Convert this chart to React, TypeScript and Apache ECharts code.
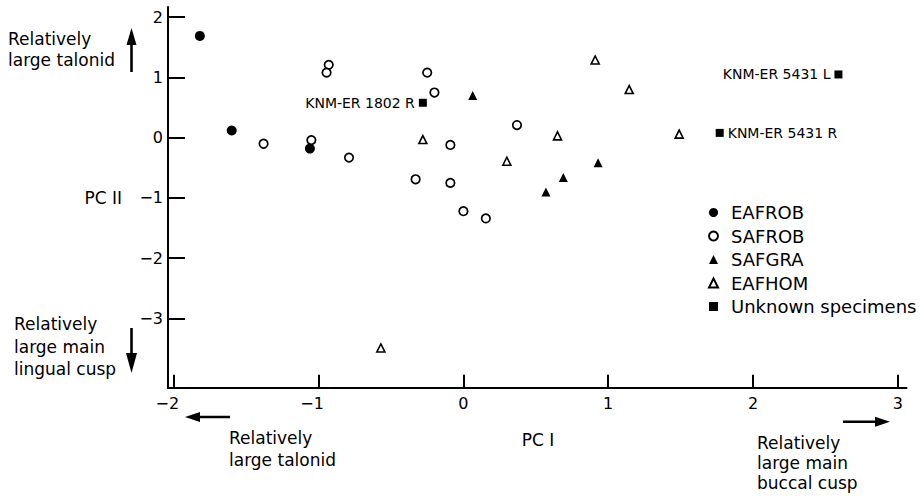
import React, { useEffect, useRef } from "react";
import * as echarts from "echarts";

// ---- data ----
const xTicks = [-2, -1, 0, 1, 2, 3];
const yTicks = [-3, -2, -1, 0, 1, 2];

const eafrobX = [-1.82, -1.6, -1.06];
const eafrobY = [1.69, 0.12, -0.18];

const safrobX = [-1.38, -1.05, -0.93, -0.945, -0.25, -0.2, -0.79, -0.09, -0.33, -0.09, 0.0, 0.155, 0.37];
const safrobY = [-0.1, -0.04, 1.21, 1.08, 1.08, 0.75, -0.33, -0.12, -0.69, -0.75, -1.22, -1.34, 0.21];

const safgraX = [0.064, 0.93, 0.69, 0.57];
const safgraY = [0.7, -0.415, -0.66, -0.9];

const eafhomX = [-0.28, 0.3, 0.65, 0.91, 1.145, 1.49, -0.57];
const eafhomY = [-0.03, -0.39, 0.03, 1.29, 0.8, 0.06, -3.49];

const unknownX = [-0.28, 2.59, 1.77];
const unknownY = [0.58, 1.05, 0.08];
const unknownNames = ["KNM-ER 1802 R", "KNM-ER 5431 L", "KNM-ER 5431 R"];
const unknownLabelSide = ["left", "left", "right"];

const legendNames = ["EAFROB", "SAFROB", "SAFGRA", "EAFHOM", "Unknown specimens"];

const FONT = "DejaVu Sans";

const zip = (xs: number[], ys: number[]) => xs.map((x, i) => [x, ys[i]]);

export default function App() {
  const ref = useRef<HTMLDivElement>(null);

  useEffect(() => {
    if (!ref.current) return;
    const chart = echarts.init(ref.current, undefined, { renderer: "svg" });

    const textStyle = (extra: any) => ({
      fontFamily: FONT,
      fontSize: 17,
      fill: "#000",
      ...extra,
    });

    const option: any = {
      animation: false,
      backgroundColor: "#fff",
      textStyle: { fontFamily: FONT, color: "#000" },
      grid: { left: 168, top: 7, width: 738.5, height: 380.7, containLabel: false },
      xAxis: {
        type: "value",
        min: -2.04,
        max: 3.06,
        splitLine: { show: false },
        axisLine: { onZero: false, lineStyle: { color: "#000", width: 2 } },
        axisTick: {
          inside: true,
          length: 13,
          customValues: xTicks,
          lineStyle: { color: "#000", width: 2 },
        },
        axisLabel: {
          customValues: xTicks,
          margin: 8,
          fontFamily: FONT,
          fontSize: 16,
          color: "#000",
          formatter: (v: number) => (v < 0 ? `{n|\u2212${-v}}` : `${v}`),
          rich: { n: { fontFamily: FONT, fontSize: 16, color: "#000", padding: [0, 13, 0, 0] } },
        },
      },
      yAxis: {
        type: "value",
        min: -4.15,
        max: 2.17,
        splitLine: { show: false },
        axisLine: { onZero: false, lineStyle: { color: "#000", width: 2 } },
        axisTick: {
          inside: true,
          length: 17,
          customValues: yTicks,
          lineStyle: { color: "#000", width: 2 },
        },
        axisLabel: {
          customValues: yTicks,
          margin: 5,
          fontFamily: FONT,
          fontSize: 16,
          color: "#000",
          formatter: (v: number) => (v < 0 ? `\u2212${-v}` : `${v}`),
        },
      },
      legend: {
        orient: "vertical",
        left: 708,
        top: 201,
        padding: 0,
        itemWidth: 9,
        itemHeight: 9,
        itemGap: 0.5,
        selectedMode: false,
        symbolKeepAspect: true,
        textStyle: { fontFamily: FONT, fontSize: 18, color: "#000", lineHeight: 23, padding: [0, 0, 0, 8] },
        data: legendNames,
      },
      series: [
        {
          type: "scatter",
          name: legendNames[0],
          symbol: "circle",
          symbolSize: 10,
          itemStyle: { color: "#000", opacity: 1 },
          data: zip(eafrobX, eafrobY),
          silent: true,
        },
        {
          type: "scatter",
          name: legendNames[1],
          symbol: "circle",
          symbolSize: 8.5,
          itemStyle: { color: "#fff", borderColor: "#000", borderWidth: 1.7, opacity: 1 },
          data: zip(safrobX, safrobY),
          silent: true,
        },
        {
          type: "scatter",
          name: legendNames[2],
          symbol: "triangle",
          symbolSize: 9,
          symbolKeepAspect: true,
          itemStyle: { color: "#000", opacity: 1 },
          data: zip(safgraX, safgraY),
          silent: true,
        },
        {
          type: "scatter",
          name: legendNames[3],
          symbol: "triangle",
          symbolSize: 8,
          symbolKeepAspect: true,
          itemStyle: { color: "#fff", borderColor: "#000", borderWidth: 1.6, opacity: 1 },
          data: zip(eafhomX, eafhomY),
          silent: true,
        },
        {
          type: "scatter",
          name: legendNames[4],
          symbol: "rect",
          symbolSize: 8,
          symbolKeepAspect: true,
          itemStyle: { color: "#000", opacity: 1 },
          silent: true,
          label: {
            show: true,
            fontFamily: FONT,
            fontSize: 14,
            color: "#000",
            distance: 4,
            formatter: (p: any) => p.name,
          },
          data: unknownX.map((x, i) => ({
            value: [x, unknownY[i]],
            name: unknownNames[i],
            label: { position: unknownLabelSide[i] },
          })),
        },
      ],
      graphic: [
        // y-axis name and direction notes
        { type: "text", left: 8, top: 28.5, style: textStyle({ text: "Relatively\nlarge talonid", lineHeight: 21 }) },
        { type: "text", left: 14, top: 313, style: textStyle({ text: "Relatively\nlarge main\nlingual cusp", lineHeight: 22.5 }) },
        { type: "text", x: 122, y: 198, style: textStyle({ text: "PC II", align: "right", verticalAlign: "middle" }) },
        // x-axis name and direction notes
        { type: "text", x: 538, y: 440, style: textStyle({ text: "PC I", align: "center", verticalAlign: "middle" }) },
        { type: "text", left: 229, top: 427, style: textStyle({ text: "Relatively\nlarge talonid", lineHeight: 22 }) },
        { type: "text", left: 757, top: 433, style: textStyle({ text: "Relatively\nlarge main\nbuccal cusp", lineHeight: 20 }) },
        // arrows
        { type: "line", shape: { x1: 131.5, y1: 72, x2: 131.5, y2: 42 }, style: { stroke: "#000", lineWidth: 2.6 } },
        { type: "polygon", shape: { points: [[131.5, 28], [126.5, 45], [136.5, 45]] }, style: { fill: "#000" } },
        { type: "line", shape: { x1: 131.5, y1: 328, x2: 131.5, y2: 356 }, style: { stroke: "#000", lineWidth: 2.6 } },
        { type: "polygon", shape: { points: [[131.5, 373], [126, 353], [137, 353]] }, style: { fill: "#000" } },
        { type: "line", shape: { x1: 197, y1: 417, x2: 230, y2: 417 }, style: { stroke: "#000", lineWidth: 2.6 } },
        { type: "polygon", shape: { points: [[185, 417], [200, 412], [200, 422]] }, style: { fill: "#000" } },
        { type: "line", shape: { x1: 843, y1: 421.7, x2: 878, y2: 421.7 }, style: { stroke: "#000", lineWidth: 2.6 } },
        { type: "polygon", shape: { points: [[890, 421.7], [875, 416.7], [875, 426.7]] }, style: { fill: "#000" } },
      ],
    };

    chart.setOption(option);
    return () => chart.dispose();
  }, []);

  return <div ref={ref} style={{ width: 922, height: 498, position: "absolute", left: 0, top: 0 }} />;
}
